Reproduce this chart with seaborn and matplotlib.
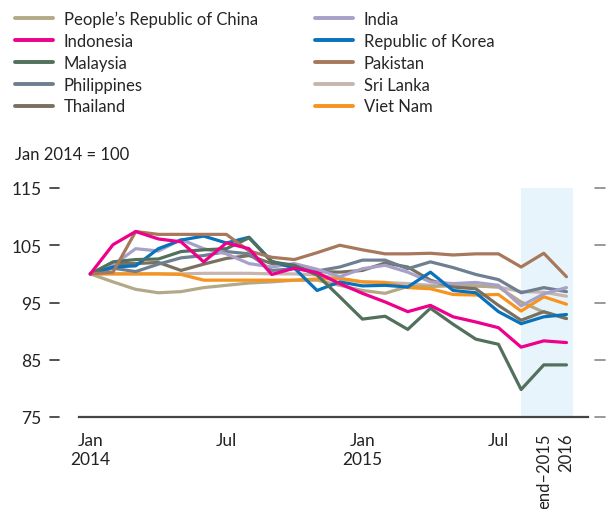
import numpy as np
import pandas as pd
import seaborn as sns
import matplotlib.pyplot as plt
from matplotlib.ticker import FixedLocator

# periods: Jan 2014 .. Aug 2015 monthly, then end-2015 and 2016 forecasts
periods = ["Jan 2014", "Feb 2014", "Mar 2014", "Apr 2014", "May 2014", "Jun 2014",
           "Jul 2014", "Aug 2014", "Sep 2014", "Oct 2014", "Nov 2014", "Dec 2014",
           "Jan 2015", "Feb 2015", "Mar 2015", "Apr 2015", "May 2015", "Jun 2015",
           "Jul 2015", "Aug 2015", "end-2015", "2016"]

china = [100, 98.6, 97.3, 96.7, 96.9, 97.6, 98.0, 98.4, 98.6, 98.9, 98.9,
         98.0, 97.1, 96.6, 97.8, 97.8, 97.9, 97.9, 97.7, 95.1, 93.3, 92.2]
indonesia = [100, 105.1, 107.4, 106.1, 105.6, 102.1, 105.4, 104.4, 99.9, 101.0, 100.2,
             98.3, 96.6, 95.1, 93.4, 94.5, 92.5, 91.6, 90.6, 87.2, 88.3, 88.0]
malaysia = [100, 102.1, 102.5, 102.6, 103.9, 104.2, 104.4, 106.3, 102.1, 101.5, 99.8,
            96.0, 92.1, 92.6, 90.3, 94.0, 91.2, 88.6, 87.7, 79.8, 84.1, 84.1]
philippines = [100, 101.0, 100.4, 101.7, 102.8, 103.2, 103.9, 103.5, 100.6, 100.9, 100.5,
               101.2, 102.4, 102.4, 100.9, 102.1, 101.1, 99.9, 99.0, 96.7, 97.6, 96.9]
thailand = [100, 101.8, 101.8, 102.0, 100.6, 101.7, 102.7, 103.2, 101.8, 101.3, 100.4,
            100.3, 100.6, 101.9, 101.2, 98.9, 97.7, 97.4, 94.5, 91.9, 93.4, 92.2]
india = [100, 101.5, 104.4, 104.0, 106.0, 104.4, 103.5, 101.8, 101.2, 101.8, 100.8,
         99.5, 100.9, 101.5, 100.3, 98.6, 98.3, 98.5, 98.0, 94.4, 96.5, 97.6]
korea = [100, 101.2, 101.4, 104.4, 105.9, 106.6, 105.4, 106.4, 102.2, 101.0, 97.1,
         98.6, 97.9, 98.0, 97.7, 100.3, 97.1, 96.7, 93.4, 91.3, 92.5, 92.9]
pakistan = [100, 100.3, 107.4, 106.9, 106.9, 106.9, 106.9, 104.0, 102.9, 102.5, 103.7,
            105.0, 104.2, 103.5, 103.5, 103.6, 103.3, 103.5, 103.5, 101.2, 103.6, 99.5]
sri_lanka = [100, 100, 100, 100, 100, 100.1, 100.1, 100.1, 100.0, 100.0, 99.8,
             99.2, 98.6, 98.5, 98.3, 98.0, 98.0, 97.9, 97.7, 96.9, 96.8, 96.1]
viet_nam = [100, 100, 100, 100, 99.9, 98.9, 98.9, 98.9, 98.9, 98.9, 99.1,
            99.2, 98.6, 98.5, 97.6, 97.4, 96.4, 96.3, 96.4, 93.5, 96.0, 94.7]

names = ["People\u2019s Republic of China", "Indonesia", "Malaysia", "Philippines", "Thailand",
         "India", "Republic of Korea", "Pakistan", "Sri Lanka", "Viet Nam"]
series = [china, indonesia, malaysia, philippines, thailand,
          india, korea, pakistan, sri_lanka, viet_nam]
colors = ["#b4a987", "#ec008c", "#52705c", "#6e7f91", "#7a7060",
          "#a7a0c9", "#0a72bb", "#a8785c", "#c6b6ad", "#f7941d"]

rows = []
for n, vals in zip(names, series):
    for i, v in enumerate(vals):
        rows.append({"idx": i, "period": periods[i], "country": n, "value": v})
df = pd.DataFrame(rows)

sns.set_style("white")
plt.rcParams['font.family'] = ['Lato', 'DejaVu Sans']

fig = plt.figure(figsize=(6.15, 5.10), dpi=100)
ax = fig.add_axes([79/615, 92/510, (588-79)/615, (418-189)/510])

# forecast shading
ax.axvspan(19, 21.3, color="#e8f4fc", lw=0, zorder=0)

draw_order = ["Sri Lanka", "People\u2019s Republic of China", "Viet Nam", "Thailand", "Philippines",
              "India", "Republic of Korea", "Malaysia", "Pakistan", "Indonesia"]
pal = dict(zip(names, colors))
for n in draw_order:
    sub = df[df["country"] == n]
    sns.lineplot(data=sub, x="idx", y="value", color=pal[n], lw=2.3, ax=ax,
                 label=None, legend=False)

ax.set_xlim(-0.5, 21.95)
ax.set_ylim(75, 115)
ax.set_xlabel("")
ax.set_ylabel("")

for s in ["top", "left", "right"]:
    ax.spines[s].set_visible(False)
ax.spines["bottom"].set_color("#444444")
ax.spines["bottom"].set_linewidth(1.6)

ax.set_yticks([75, 85, 95, 105, 115])
ax.tick_params(axis="y", which="both", left=True, right=True, labelleft=True,
               length=0, labelsize=12.5, pad=27, colors="#222222")
# y ticks drawn as small dashes away from the plotting area
for yv in [75, 85, 95, 105, 115]:
    ax.plot([-1.8, -1.37], [yv, yv], color="#333333", lw=1.2, clip_on=False)
    ax.plot([22.25, 22.7], [yv, yv], color="#888888", lw=1.2, clip_on=False)

ax.set_xticks([0, 6, 12, 18, 20, 21])
ax.set_xticklabels(["Jan\n2014", "Jul", "Jan\n2015", "Jul", "end\u20132015", "2016"])
ax.tick_params(axis="x", which="major", length=0, labelsize=12.5, pad=11, colors="#222222")
for lbl in ax.get_xticklabels()[4:]:
    lbl.set_rotation(90)
    lbl.set_va("top")
    lbl.set_fontsize(12)
ax.xaxis.set_minor_locator(FixedLocator(np.arange(-0.5, 22, 1)))
ax.tick_params(axis="x", which="minor", length=3, direction="inout", color="#666666", width=0.8)

fig.text(15/615, 1 - 155/510, "Jan 2014 = 100", fontsize=12, va="center", ha="left", color="#222222")

handles = [plt.Line2D([], [], color=c, lw=2.8) for c in colors]
fig.legend(handles, names, loc="upper left", bbox_to_anchor=(0.005, 1.0), ncol=2,
           frameon=False, fontsize=12, handlelength=2.3, handletextpad=0.65,
           labelspacing=0.35, columnspacing=3.4, borderaxespad=0.3)

fig.savefig("out.png", dpi=100)
